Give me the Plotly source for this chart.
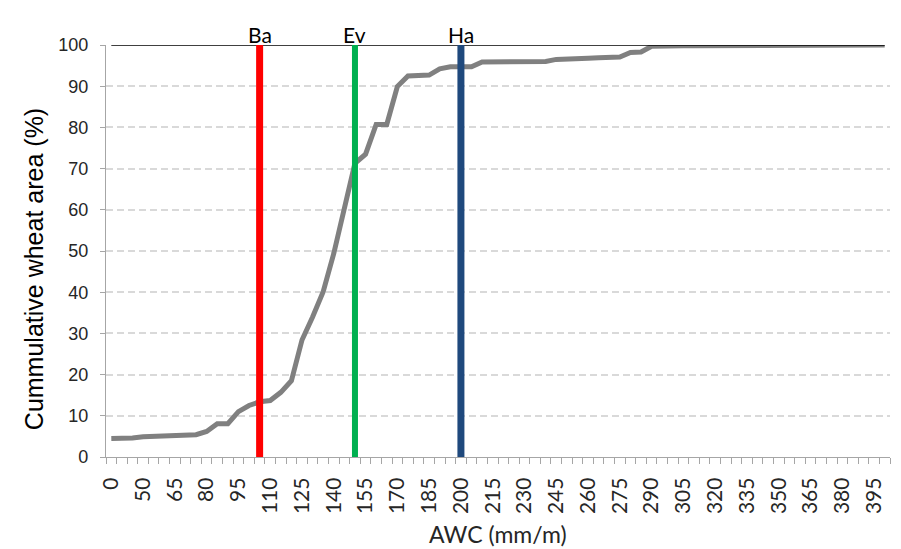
import plotly.graph_objects as go

# ---- data ----
awc_categories = [0, 40, 45, 50, 55, 60, 65, 70, 75, 80, 85, 90, 95, 100, 105, 110,
                  115, 120, 125, 130, 135, 140, 145, 150, 155, 160, 165, 170, 175,
                  180, 185, 190, 195, 200, 205, 210, 215, 220, 225, 230, 235, 240,
                  245, 250, 255, 260, 265, 270, 275, 280, 285, 290, 295, 300, 305,
                  310, 315, 320, 325, 330, 335, 340, 345, 350, 355, 360, 365, 370,
                  375, 380, 385, 390, 395, 400]

cumulative_area = [4.5, 4.5, 4.6, 4.9, 5.0, 5.2, 5.3, 5.3, 5.4, 6.2, 8.1, 8.1, 11.0,
                   12.5, 13.4, 13.7, 15.7, 18.5, 28.4, 34.0, 40.1, 49.4, 60.8, 71.3,
                   73.5, 80.7, 80.7, 89.9, 92.5, 92.7, 92.7, 94.2, 94.7, 94.7, 94.7,
                   95.9, 95.9, 95.9, 95.9, 95.9, 95.9, 96.0, 96.5, 96.5, 96.6, 96.8,
                   96.9, 97.0, 97.1, 98.2, 98.3, 99.7, 99.8, 99.8, 99.8, 99.8, 99.8,
                   99.8, 99.8, 99.8, 99.8, 99.8, 99.8, 99.8, 99.8, 99.8, 99.8, 100,
                   100, 100, 100, 100, 100, 100]

full_area = 100

marker_names = ["Ba", "Ev", "Ha"]
marker_awc = [105, 150, 200]
marker_colors = ["#FF0000", "#00B050", "#1F497D"]
marker_widths = [7, 6, 7]

label_every = 3

# ---- figure ----
idx = list(range(len(awc_categories)))
fig = go.Figure()

fig.add_trace(go.Scatter(x=idx, y=cumulative_area, mode="lines",
                         line=dict(color="#808080", width=5),
                         hoverinfo="skip", showlegend=False))
fig.add_trace(go.Scatter(x=[idx[0], idx[-1]], y=[full_area, full_area], mode="lines",
                         line=dict(color="#000000", width=1.5),
                         hoverinfo="skip", showlegend=False))

for name, awc, col, w in zip(marker_names, marker_awc, marker_colors, marker_widths):
    i = awc_categories.index(awc)
    fig.add_trace(go.Scatter(x=[i, i], y=[0, full_area], mode="lines",
                             line=dict(color=col, width=w),
                             hoverinfo="skip", showlegend=False))
    fig.add_annotation(x=i, y=1, xref="x", yref="paper", text=name,
                       showarrow=False, yanchor="middle", yshift=11,
                       font=dict(family="Lato", size=21, color="#000000"))

tickvals = [i for i in idx if i % label_every == 0]
ticktext = [str(awc_categories[i]) for i in tickvals]

# page body has an 8px default margin: offset the figure accordingly
fig.update_layout(
    width=885, height=541,
    margin=dict(l=98, r=3, t=37, b=92),
    plot_bgcolor="white", paper_bgcolor="white",
    xaxis=dict(range=[-0.5, len(idx) - 0.5], tickmode="array",
               tickvals=tickvals, ticktext=ticktext, tickangle=-90,
               ticks="outside", ticklen=0, ticklabelstandoff=11,
               tickfont=dict(family="Lato", size=21, color="#262626"),
               showline=True, linecolor="#A6A6A6", linewidth=1.3,
               showgrid=False, zeroline=False, automargin=False,
               minor=dict(ticks="outside", ticklen=6, tickcolor="#A6A6A6",
                          tickwidth=1, tick0=-0.5, dtick=1, showgrid=False)),
    yaxis=dict(range=[0, 100], dtick=10, ticks="outside", ticklen=5,
               tickcolor="#A6A6A6", ticklabelstandoff=8,
               tickfont=dict(family="Liberation Sans", size=18, color="#262626"),
               showline=True, linecolor="#A6A6A6", linewidth=1.3,
               showgrid=True, gridcolor="#D9D9D9", gridwidth=1.5,
               griddash="7px,4px", zeroline=False, automargin=False),
)

fig.add_annotation(x=-0.0918, y=45.6, xref="paper", yref="y",
                   text="Cummulative wheat area (%)", textangle=-90,
                   showarrow=False, xanchor="center", yanchor="middle",
                   font=dict(family="Liberation Sans", size=25, color="#000000"))
fig.add_annotation(x=0.5, y=-0.188, xref="paper", yref="paper",
                   text="AWC (mm/m)", showarrow=False,
                   xanchor="center", yanchor="middle",
                   font=dict(family="Lato", size=23, color="#262626"))

fig.write_html("out.html")
